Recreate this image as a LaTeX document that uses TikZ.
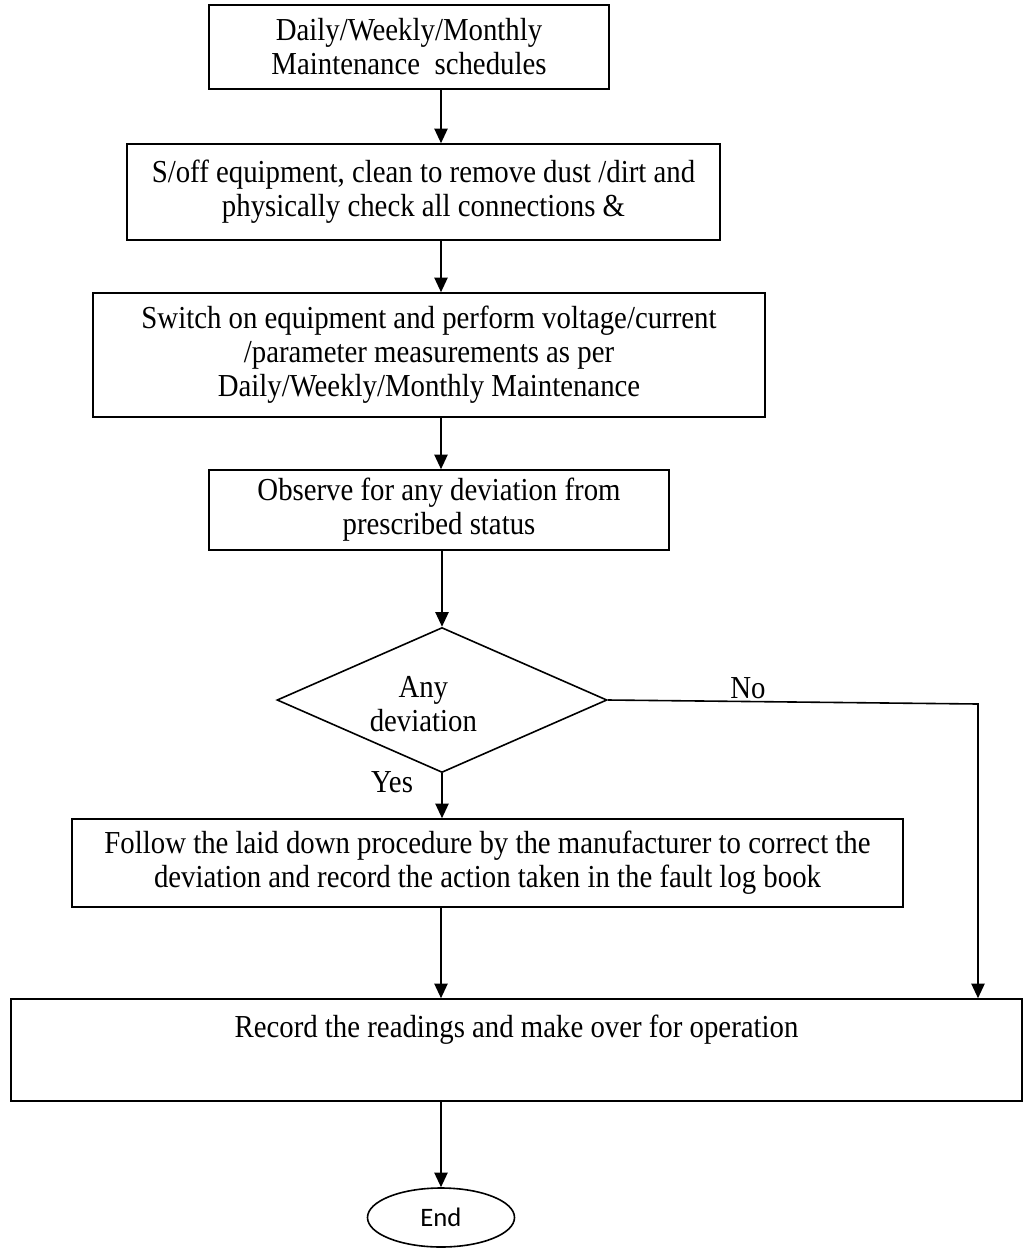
\documentclass[tikz,border=0pt]{standalone}
\usepackage{fontspec}
\setmainfont{Liberation Serif}[FakeStretch=0.9]
\newfontfamily\endfont{Carlito}
\usetikzlibrary{shapes.geometric,arrows.meta,positioning}

\begin{document}
\begin{tikzpicture}[x=0.75pt,y=-0.75pt]

        \tikzstyle{stepbox}=[draw,line width=1.2pt,align=center,inner sep=0pt,font=\fontsize{24}{25.5}\selectfont]
        \tikzstyle{arr}=[line width=1.2pt,-{Triangle[width=10pt,length=11pt]}]
        \tikzstyle{lbl}=[font=\fontsize{24}{25.5}\selectfont]

        \useasboundingbox (0,0) rectangle (1022,1249);
        \coordinate (spine) at (441,0);

        %% Process boxes
        \node[stepbox,minimum width=300pt,minimum height=63pt] (sched) at (409,47)
            {Daily/Weekly/Monthly\\Maintenance~ schedules};
        \node[stepbox,minimum width=444.75pt,minimum height=72pt] (clean) at (423.5,192)
            {S/off equipment, clean to remove dust /dirt and\\physically check all connections \&};
        \node[stepbox,minimum width=504pt,minimum height=93pt] (measure) at (429,355)
            {Switch on equipment and perform voltage/current\\/parameter measurements as per\\Daily/Weekly/Monthly Maintenance};
        \node[stepbox,minimum width=345pt,minimum height=60pt] (observe) at (439,510)
            {Observe for any deviation from\\prescribed status};
        \node[stepbox,shape=diamond,aspect=2.3,minimum width=247.5pt,minimum height=108.75pt,
            label={[lbl,align=center,xshift=-14pt,yshift=-3pt]center:Any\\deviation}] (dev) at (442,700) {};
        \node[stepbox,minimum width=623.25pt,minimum height=66pt] (correct) at (487.5,863)
            {Follow the laid down procedure by the manufacturer to correct the\\deviation and record the action taken in the fault log book};
        \node[stepbox,minimum width=758.25pt,text height=28.5pt,text depth=48pt] (record) at (516.5,1050)
            {Record the readings and make over for operation};
        \node[stepbox,shape=ellipse,minimum width=110.25pt,minimum height=44.25pt,font=\endfont\fontsize{20}{22}\selectfont] (finish) at (441,1217.5)
            {End};

        \node[lbl] (nolbl) at (748,688) {No};
        \node[lbl] (yeslbl) at (392,782) {Yes};
        \coordinate (noturn) at (978,704);

        %% Connectors
        \draw[arr] (sched.south -| spine) -- (clean.north -| spine);
        \draw[arr] (clean.south -| spine) -- (measure.north -| spine);
        \draw[arr] (measure.south -| spine) -- (observe.north -| spine);
        \draw[arr] (observe.south -| dev.north) -- (dev.north);
        \draw[arr] (dev.south) -- (correct.north -| dev.south);
        \draw[arr] (correct.south -| spine) -- (record.north -| spine);
        \draw[arr] (dev.east) -- (noturn) -- (record.north -| noturn);
        \draw[arr] (record.south -| spine) -- (finish.north);

    \end{tikzpicture}
\end{document}
